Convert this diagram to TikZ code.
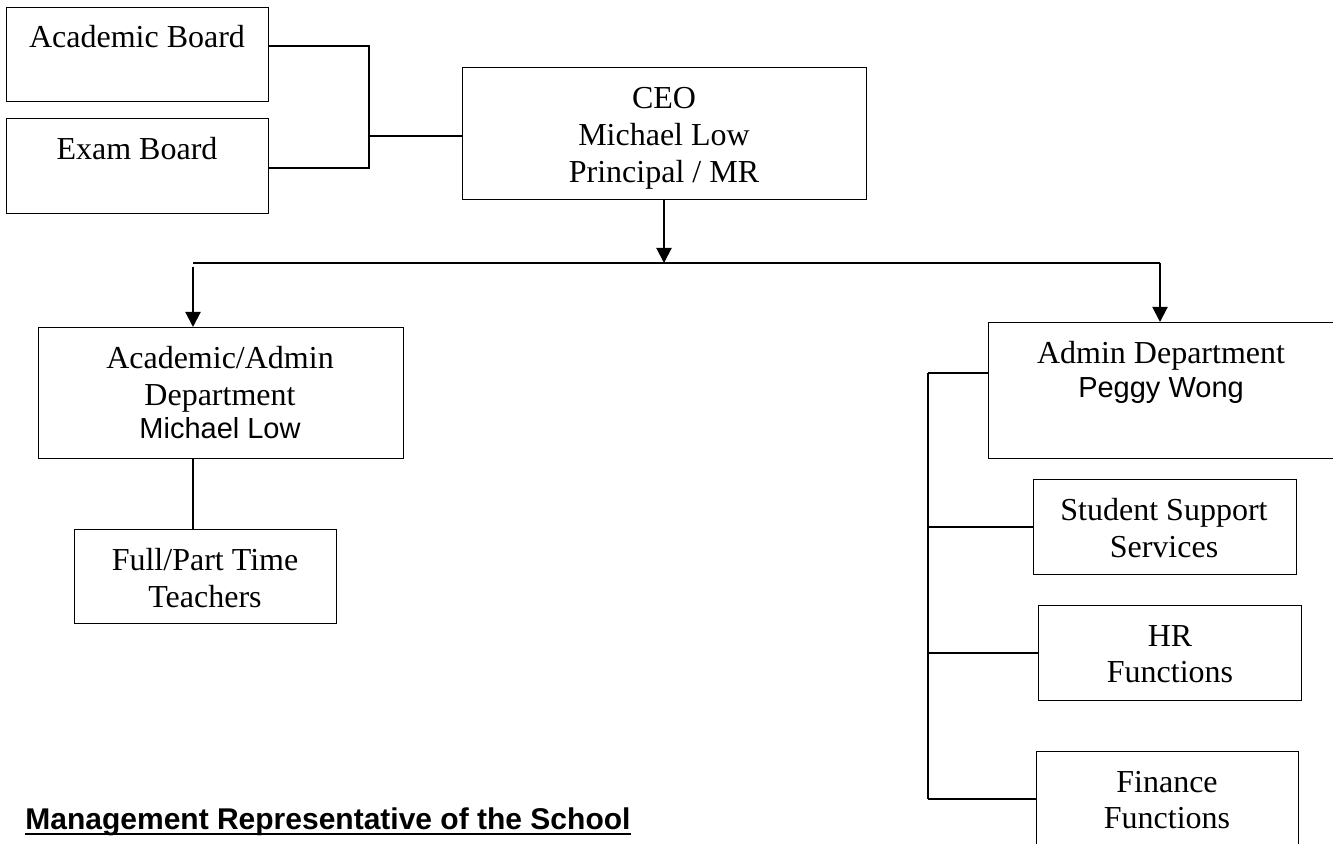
\documentclass[tikz,border=0pt]{standalone}
\usepackage{fontspec}
\setmainfont{Liberation Serif}
\newfontfamily\arialfont{Liberation Sans}
\newcommand\sansname[1]{{\arialfont\fontsize{14.5}{18.5}\selectfont #1}}
\usetikzlibrary{arrows.meta}

\begin{document}
\begin{tikzpicture}[x=0.5pt,y=-0.5pt,
  box/.style={draw,line width=0.5pt,inner sep=0pt,anchor=north west},
  txt/.style={anchor=north,inner sep=0pt,align=center,font=\fontsize{16}{18.5}\selectfont},
  link/.style={line width=1pt},
  arr/.style={line width=1pt,-{Triangle[length=7.5pt,width=7.5pt]}}]
\useasboundingbox (0,0) rectangle (1333,844);
%boards
  \node[box,minimum width=131pt,minimum height=47pt] (ab) at (6,7) {};
  \node[txt] (abt) at (137,21) {\strut Academic Board};
  \node[box,minimum width=131pt,minimum height=47.5pt] (eb) at (6,118) {};
  \node[txt] (ebt) at (137,133) {\strut Exam Board};
%ceo
  \node[box,minimum width=202pt,minimum height=66pt] (ceo) at (462,67) {};
  \node[txt] (ceot) at (664,82) {\strut CEO\\Michael Low\\Principal / MR};
%academic side
  \node[box,minimum width=182.5pt,minimum height=65.5pt] (aa) at (38,327) {};
  \node[txt] (aat) at (220,342) {\strut Academic/Admin\\Department\\[-2pt]\sansname{Michael Low}};
  \node[box,minimum width=131pt,minimum height=47pt] (fp) at (74,529) {};
  \node[txt] (fpt) at (205,544) {\strut Full/Part Time\\Teachers};
%admin side
  \node[box,minimum width=173pt,minimum height=68pt] (adm) at (988,322) {};
  \node[txt] (admt) at (1161,337) {\strut Admin Department\\[-1.5pt]\sansname{Peggy Wong}};
  \node[box,minimum width=131.5pt,minimum height=47.5pt] (ss) at (1033,479) {};
  \node[txt] (sst) at (1164,494) {\strut Student Support\\Services};
  \node[box,minimum width=131.5pt,minimum height=47.5pt] (hr) at (1038,605) {};
  \node[txt] (hrt) at (1170,620) {\strut HR\\[-0.5pt]Functions};
  \node[box,minimum width=131pt,minimum height=47.5pt] (fin) at (1036,751) {};
  \node[txt] (fint) at (1167,766) {\strut Finance\\[-0.5pt]Functions};
%title
  \node[anchor=base west,inner sep=0pt,font=\arialfont\bfseries\fontsize{15}{18}\selectfont]
    (mr) at (25,829) {Management Representative of the School};
  \draw[line width=1.3pt] ([yshift=-2.5pt]mr.base west) -- ([yshift=-2.5pt]mr.base east);
%paths
  \coordinate (jn) at (369,136);
  \coordinate (bl) at (193,263);
  \coordinate (bm) at (664,263);
  \coordinate (br) at (1160,263);
  \coordinate (rt) at (928,373);
  \draw[link] ([yshift=4pt]ab.east) -| (jn) |- ([yshift=-1.2pt]eb.east);
  \draw[link] (jn) -- (jn -| ceo.west);
  \draw[arr] (bm |- ceo.south) -- (bm);
  \draw[link] (bl) -- (br);
  \draw[arr] ([yshift=-2pt]bl) -- (bl |- aa.north);
  \draw[arr] (br) -- (br |- adm.north);
  \draw[link] (bl |- aa.south) -- (bl |- fp.north);
  \draw[link] (rt) -- (rt -| adm.west);
  \draw[link] (rt) -- (rt |- fin.west);
  \foreach \n in {ss,hr,fin}
    \draw[link] (rt |- \n.west) -- (\n.west);
\end{tikzpicture}
\end{document}
